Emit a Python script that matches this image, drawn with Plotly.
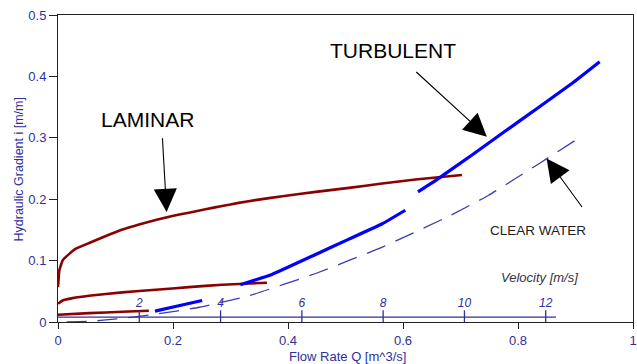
import math
import plotly.graph_objects as go

# ---------------- data ----------------
lam_top_q = [0, 0.0023, 0.0081, 0.0196, 0.0312, 0.0542, 0.0832, 0.1121, 0.1409, 0.1698, 0.1988,
             0.2276, 0.2565, 0.2854, 0.3142, 0.3432, 0.3905, 0.4483, 0.506, 0.5638, 0.6217, 0.7024]
lam_top_i = [0.0568, 0.084, 0.1004, 0.111, 0.1195, 0.1287, 0.140, 0.1505, 0.1587, 0.166, 0.1727,
             0.178, 0.1836, 0.189, 0.194, 0.1985, 0.2049, 0.2119, 0.2184, 0.2256, 0.2321, 0.2395]

lam_mid_q = [0, 0.008, 0.0255, 0.054, 0.112, 0.170, 0.2276, 0.2854, 0.3634]
lam_mid_i = [0.0297, 0.0351, 0.0389, 0.0428, 0.0482, 0.0525, 0.0568, 0.0607, 0.064]

lam_low_q = [0, 0.054, 0.112, 0.158]
lam_low_i = [0.0117, 0.0144, 0.0166, 0.0183]

turb_a_q = [0.1687, 0.210, 0.2507]
turb_a_i = [0.0177, 0.0264, 0.0351]

turb_b_q = [0.317, 0.372, 0.448, 0.506, 0.564, 0.604]
turb_b_i = [0.0607, 0.0775, 0.110, 0.135, 0.160, 0.182]

turb_c_q = [0.626, 0.662, 0.720, 0.778, 0.835, 0.893, 0.942]
turb_c_i = [0.212, 0.234, 0.272, 0.311, 0.349, 0.388, 0.424]

clear_q = [0.015, 0.055, 0.102, 0.165, 0.246, 0.333, 0.448, 0.564, 0.679, 0.749, 0.835, 0.905]
clear_i = [0.0, 0.001, 0.005, 0.012, 0.024, 0.043, 0.079, 0.122, 0.172, 0.2065, 0.257, 0.299]

x_ticks = [0, 0.2, 0.4, 0.6, 0.8, 1]
x_tick_labels = ["0", "0.2", "0.4", "0.6", "0.8", "1"]
y_ticks = [0, 0.1, 0.2, 0.3, 0.4, 0.5]
y_tick_labels = ["0", "0.1", "0.2", "0.3", "0.4", "0.5"]

pipe_diameter = 0.3            # m
velocity_ticks = [2, 4, 6, 8, 10, 12]
velocity_max = 12.25           # m/s, end of the velocity scale
velocity_axis_level = 0.008    # hydraulic gradient where velocity scale sits
velocity_tick_top = 0.019
velocity_label_level = 0.030

# ---------------- styling ----------------
RED = "#8B0000"
BLUE = "#0000FF"
NAVY = "#30309a"
FONT = "Arial, Liberation Sans, sans-serif"

area = math.pi * pipe_diameter ** 2 / 4.0
vel_q = [v * area for v in velocity_ticks]

fig = go.Figure()

for q, i in [(lam_top_q, lam_top_i), (lam_mid_q, lam_mid_i), (lam_low_q, lam_low_i)]:
    fig.add_trace(go.Scatter(x=q, y=i, mode="lines",
                             line=dict(color=RED, width=2.6, shape="spline", smoothing=0.3),
                             hoverinfo="skip"))

for q, i in [(turb_a_q, turb_a_i), (turb_b_q, turb_b_i), (turb_c_q, turb_c_i)]:
    fig.add_trace(go.Scatter(x=q, y=i, mode="lines",
                             line=dict(color=BLUE, width=3.2, shape="spline", smoothing=0.3),
                             hoverinfo="skip"))

fig.add_trace(go.Scatter(x=clear_q, y=clear_i, mode="lines",
                         line=dict(color="#3c3cb0", width=1.3, dash="20px,11px", shape="spline", smoothing=0.4),
                         hoverinfo="skip"))

# velocity scale (drawn in data coordinates)
fig.add_trace(go.Scatter(x=[0, velocity_max * area], y=[velocity_axis_level, velocity_axis_level],
                         mode="lines", line=dict(color=NAVY, width=1.3), hoverinfo="skip"))
tx, ty = [], []
for q in vel_q:
    tx += [q, q, None]
    ty += [0, velocity_tick_top, None]
fig.add_trace(go.Scatter(x=tx, y=ty, mode="lines", line=dict(color=NAVY, width=1.3), hoverinfo="skip"))
fig.add_trace(go.Scatter(x=vel_q, y=[velocity_label_level] * len(vel_q), mode="text",
                         text=[f"<i>{v}</i>" for v in velocity_ticks],
                         textfont=dict(family=FONT, size=12, color=NAVY), hoverinfo="skip"))

annotations = [
    dict(x=0.156, y=0.3306, text="LAMINAR", showarrow=False, font=dict(family=FONT, size=21, color="#000")),
    dict(x=0.582, y=0.4416, text="TURBULENT", showarrow=False, font=dict(family=FONT, size=21, color="#000")),
    dict(x=0.835, y=0.1494, text="CLEAR WATER", showarrow=False, font=dict(family=FONT, size=13.5, color="#222")),
    dict(x=0.838, y=0.0731, text="<i>Velocity [m/s]</i>", showarrow=False,
         font=dict(family=FONT, size=13, color="#333344")),
    # axis titles
    dict(xref="paper", yref="paper", x=0.5, y=0, xshift=2, yshift=-34.5, yanchor="middle",
         text="Flow Rate Q [m^3/s]", showarrow=False, font=dict(family=FONT, size=13, color=NAVY)),
    dict(xref="paper", yref="paper", x=0, y=0.5, xshift=-40, yshift=-1, xanchor="center", yanchor="middle",
         textangle=-90, text="Hydraulic Gradient i [m/m]", showarrow=False,
         font=dict(family=FONT, size=12.5, color=NAVY)),
]
for tip, tail in [((0.1889, 0.1792), (0.1815, 0.3017)),
                  ((0.7458, 0.3017), (0.6205, 0.4094)),
                  ((0.8497, 0.2664), (0.9133, 0.1848))]:
    annotations.append(dict(x=tip[0], y=tip[1], ax=tail[0], ay=tail[1], axref="x", ayref="y",
                            xref="x", yref="y", text="", showarrow=True, arrowhead=2,
                            arrowsize=4.2, arrowwidth=1.1, arrowcolor="#000", standoff=0))

fig.update_layout(
    width=637, height=364,
    margin=dict(l=58, r=4, t=15, b=42, autoexpand=False),
    paper_bgcolor="white", plot_bgcolor="white",
    showlegend=False,
    annotations=annotations,
    font=dict(family=FONT),
)
fig.update_xaxes(
    range=[0, 1], tickvals=x_ticks, ticktext=x_tick_labels, automargin=False,
    ticklabeloverflow="allow",
    showline=True, linecolor="#222", linewidth=1, mirror=True,
    ticks="outside", ticklen=6, tickcolor="#222", showgrid=False, zeroline=False,
    tickfont=dict(family=FONT, size=13, color=NAVY),
)
fig.update_yaxes(
    range=[0, 0.5], tickvals=y_ticks, ticktext=y_tick_labels, automargin=False,
    showline=True, linecolor="#222", linewidth=1, mirror=True,
    ticks="outside", ticklen=8, tickcolor="#222", showgrid=False, zeroline=False,
    tickfont=dict(family=FONT, size=13, color=NAVY),
)

fig.write_html(
    "out.html",
    config={"responsive": False, "displayModeBar": False},
    post_script="document.body.style.margin='0';document.body.style.overflow='hidden';",
)
